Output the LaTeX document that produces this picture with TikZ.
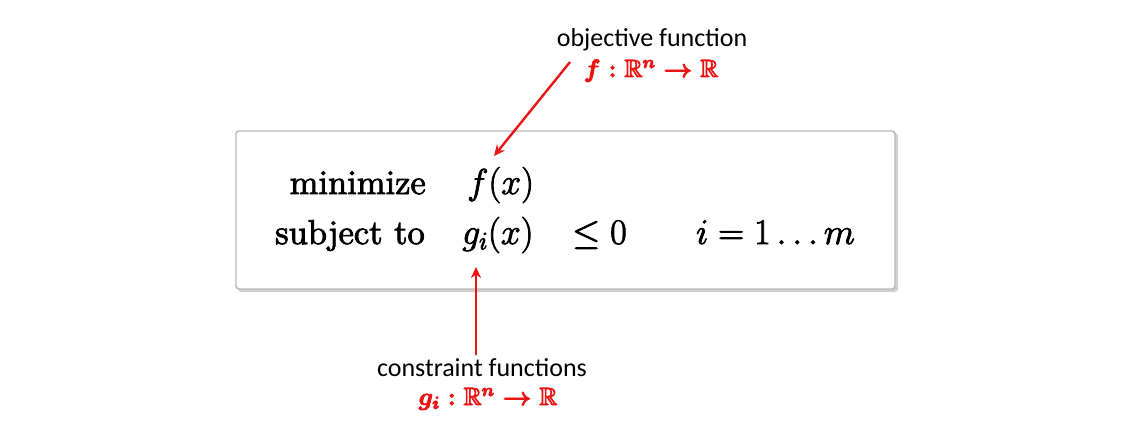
\documentclass[tikz,border=0pt]{standalone}
\usepackage{fix-cm}
\usepackage{amsmath,amssymb}
\usepackage{fontspec}
\newfontfamily\calib{Carlito}
\newfontfamily\lmten{lmroman10-regular.otf}
\newcommand\heavytxt[1]{\special{pdf:literal direct 2 Tr 0.8 w}#1\special{pdf:literal direct 0 Tr 0.4 w}}
\usetikzlibrary{arrows.meta}
\definecolor{arrred}{RGB}{235,20,20}
\begin{document}
\begin{tikzpicture}[x=1pt,y=-1pt,
  lbl/.style={font=\calib\fontsize{26}{30}\selectfont, inner sep=0pt, anchor=base},
  redlbl/.style={font=\fontsize{25}{30}\selectfont\boldmath, text=arrred, inner sep=0pt, anchor=base},
  boxtxt/.style={font=\lmten\fontsize{34.5}{42}\selectfont, inner sep=0pt},
  boxmath/.style={font=\fontsize{36}{42}\selectfont, inner sep=0pt},
  redarrow/.style={draw=arrred, line width=2.4pt, -{Stealth[length=11pt,width=10pt]}}]
\useasboundingbox (0,0) rectangle (1131,436);
% box with shadow
\fill[black!18, rounded corners=3pt] (238,133) rectangle (898,292);
\draw[black!28, fill=white, line width=1.4pt, rounded corners=3pt] (236,131) rectangle (895,289);
% box text
\node[boxtxt, anchor=base east] (minlbl) at (426,194) {\heavytxt{minimize}};
\node[boxtxt, anchor=base east] (stlbl) at (425,244) {\heavytxt{subject to}};
\node[boxmath, anchor=base west] (fx) at (467,194) {\heavytxt{$f(x)$}};
\node[boxmath, anchor=base west] (gx) at (462,244) {\heavytxt{$g_i(x)$}};
\node[boxmath, anchor=base west] (leq) at (572,244) {\heavytxt{$\leq 0$}};
\node[boxmath, anchor=base west] (irange) at (696,244) {\heavytxt{$i=1\ldots m$}};
% labels
\node[lbl] (objlbl) at (652,47) {objective function};
\node[redlbl] (objmath) at (651,77) {\heavytxt{$f:\mathbb{R}^n\rightarrow\mathbb{R}$}};
\node[lbl] (conlbl) at (482,376) {constraint functions};
\node[redlbl] (conmath) at (488,405) {\heavytxt{$g_i:\mathbb{R}^n\rightarrow\mathbb{R}$}};
% arrow endpoints
\coordinate (objtail) at (570,62);
\coordinate (objtip) at (494,156);
\coordinate (contail) at (476,355);
\coordinate (contip) at (476,267);
\draw[redarrow] (objtail) -- (objtip);
\draw[redarrow] (contail) -- (contip);
\end{tikzpicture}
\end{document}
